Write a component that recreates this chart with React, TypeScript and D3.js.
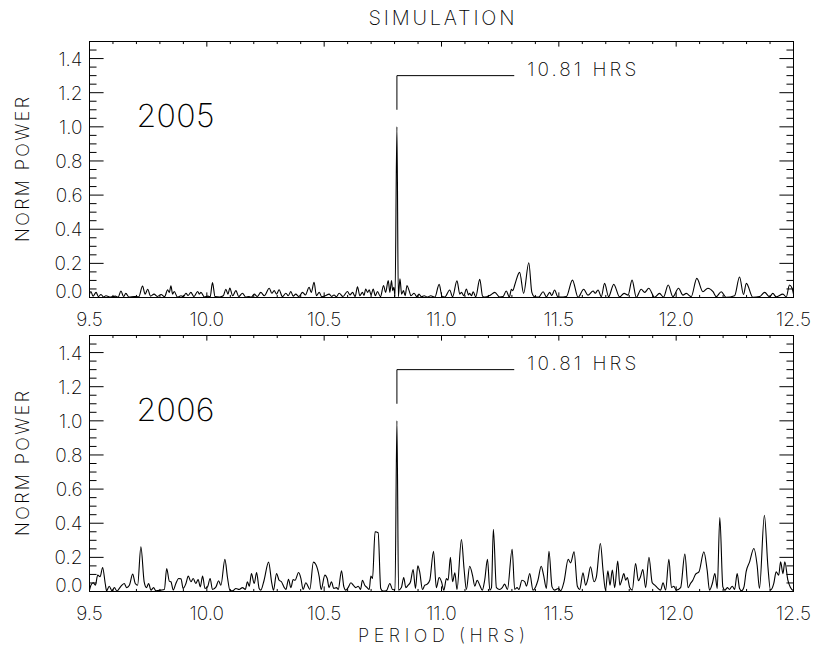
import * as d3 from 'd3';

const TITLE = 'SIMULATION';
const X_LABEL = 'PERIOD (HRS)';
const Y_LABEL = 'NORM POWER';
const X_TICKS = [9.5, 10.0, 10.5, 11.0, 11.5, 12.0, 12.5];
const Y_TICKS = [0, 0.2, 0.4, 0.6, 0.8, 1.0, 1.2, 1.4];
const PEAK_PERIOD = 10.81;
const PEAK_LABEL = '10.81 HRS';

// [period (hrs), normalised power]
const POWER_2005: [number, number][] = [
  [9.5, 0.02], [9.506, 0.035], [9.515, 0.008], [9.528, 0.03], [9.538, 0.005], [9.549, 0.018], [9.56, 0.003],
  [9.57, 0.01], [9.59, 0.002], [9.61, 0.008], [9.622, 0.002], [9.634, 0.038], [9.645, 0.006], [9.655, 0.024],
  [9.668, 0.003], [9.69, 0.006], [9.71, 0.004], [9.726, 0.067], [9.737, 0.02], [9.748, 0.048], [9.76, 0.008],
  [9.775, 0.02], [9.79, 0.006], [9.805, 0.018], [9.82, 0.005], [9.833, 0.045], [9.84, 0.03], [9.847, 0.069],
  [9.854, 0.02], [9.861, 0.035], [9.875, 0.002], [9.89, 0.01], [9.9, 0.004], [9.911, 0.025], [9.92, 0.012],
  [9.932, 0.03], [9.945, 0.005], [9.961, 0.035], [9.968, 0.02], [9.975, 0.03], [9.99, 0.003], [10.005, 0.008],
  [10.014, 0.003], [10.024, 0.087], [10.035, 0.005], [10.055, 0.003], [10.07, 0.01], [10.081, 0.048],
  [10.09, 0.02], [10.098, 0.055], [10.11, 0.01], [10.124, 0.04], [10.136, 0.005], [10.152, 0.025],
  [10.165, 0.003], [10.18, 0.005], [10.19, 0.002], [10.202, 0.02], [10.215, 0.006], [10.23, 0.03],
  [10.245, 0.01], [10.266, 0.054], [10.277, 0.025], [10.287, 0.04], [10.297, 0.02], [10.308, 0.045],
  [10.322, 0.005], [10.337, 0.025], [10.347, 0.01], [10.358, 0.035], [10.368, 0.008], [10.379, 0.02],
  [10.392, 0.006], [10.408, 0.03], [10.42, 0.015], [10.436, 0.06], [10.445, 0.03], [10.457, 0.089],
  [10.467, 0.01], [10.479, 0.03], [10.49, 0.004], [10.505, 0.01], [10.521, 0.02], [10.532, 0.006],
  [10.542, 0.015], [10.552, 0.004], [10.564, 0.025], [10.58, 0.006], [10.599, 0.035], [10.61, 0.015],
  [10.621, 0.03], [10.632, 0.005], [10.642, 0.063], [10.652, 0.01], [10.663, 0.03], [10.67, 0.012],
  [10.677, 0.05], [10.685, 0.03], [10.692, 0.045], [10.7, 0.015], [10.709, 0.05], [10.718, 0.01],
  [10.727, 0.035], [10.74, 0.005], [10.753, 0.07], [10.762, 0.03], [10.773, 0.1], [10.78, 0.03],
  [10.787, 0.1], [10.792, 0.04], [10.797, 0.06], [10.802, 0.005], [10.81, 1.0], [10.816, 0.005],
  [10.823, 0.11], [10.83, 0.02], [10.838, 0.04], [10.845, 0.01], [10.853, 0.07], [10.862, 0.04],
  [10.87, 0.01], [10.883, 0.025], [10.895, 0.005], [10.904, 0.02], [10.915, 0.004], [10.926, 0.01],
  [10.94, 0.003], [10.954, 0.01], [10.972, 0.003], [10.99, 0.077], [11.002, 0.008], [11.014, 0.003],
  [11.035, 0.044], [11.047, 0.004], [11.066, 0.098], [11.078, 0.02], [11.085, 0.03], [11.095, 0.01],
  [11.106, 0.05], [11.115, 0.015], [11.12, 0.025], [11.128, 0.01], [11.135, 0.034], [11.146, 0.004],
  [11.163, 0.106], [11.175, 0.008], [11.184, 0.002], [11.206, 0.012], [11.227, 0.03], [11.248, 0.002],
  [11.262, 0.005], [11.276, 0.038], [11.289, 0.003], [11.298, 0.048], [11.304, 0.04], [11.312, 0.073],
  [11.333, 0.147], [11.35, 0.024], [11.372, 0.204], [11.385, 0.03], [11.397, 0.004], [11.415, 0.003],
  [11.433, 0.034], [11.447, 0.004], [11.461, 0.03], [11.47, 0.012], [11.482, 0.044], [11.495, 0.005],
  [11.504, 0.002], [11.532, 0.005], [11.558, 0.102], [11.582, 0.001], [11.606, 0.048], [11.624, 0.014],
  [11.646, 0.038], [11.655, 0.025], [11.667, 0.044], [11.681, 0.005], [11.695, 0.083], [11.712, 0.005],
  [11.734, 0.077], [11.759, 0.004], [11.778, 0.024], [11.795, 0.014], [11.812, 0.102], [11.83, 0.001],
  [11.851, 0.048], [11.866, 0.03], [11.883, 0.054], [11.908, 0.001], [11.929, 0.024], [11.946, 0.002],
  [11.966, 0.073], [11.986, 0.005], [12.01, 0.054], [12.029, 0.014], [12.043, 0.024], [12.064, 0.005],
  [12.088, 0.112], [12.114, 0.034], [12.135, 0.054], [12.157, 0.034], [12.171, 0.005], [12.192, 0.034],
  [12.213, 0.001], [12.249, 0.01], [12.27, 0.12], [12.287, 0.018], [12.299, 0.083], [12.327, 0.001],
  [12.355, 0.005], [12.377, 0.03], [12.398, 0.004], [12.412, 0.024], [12.426, 0.004], [12.455, 0.02],
  [12.469, 0.003], [12.483, 0.073], [12.494, 0.054], [12.5, 0.02],
];

const POWER_2006: [number, number][] = [
  [9.5, 0.008], [9.506, 0.037], [9.516, 0.051], [9.525, 0.037], [9.535, 0.096], [9.545, 0.086], [9.556, 0.141],
  [9.567, 0.047], [9.573, 0.004], [9.584, 0.031], [9.596, 0.004], [9.606, 0.023], [9.617, 0.002], [9.627, 0.018],
  [9.638, 0.037], [9.648, 0.047], [9.658, 0.023], [9.67, 0.037], [9.684, 0.102], [9.695, 0.047], [9.705, 0.037],
  [9.719, 0.262], [9.733, 0.057], [9.743, 0.023], [9.752, 0.047], [9.762, 0.008], [9.773, 0.023], [9.783, 0.004],
  [9.804, 0.008], [9.819, 0.012], [9.829, 0.135], [9.84, 0.061], [9.847, 0.057], [9.857, 0.008], [9.868, 0.047],
  [9.88, 0.076], [9.89, 0.074], [9.899, 0.018], [9.911, 0.047], [9.921, 0.09], [9.932, 0.057], [9.942, 0.076],
  [9.953, 0.047], [9.963, 0.07], [9.972, 0.027], [9.982, 0.09], [9.992, 0.018], [10.003, 0.027], [10.014, 0.076],
  [10.024, 0.012], [10.039, 0.027], [10.05, 0.063], [10.06, 0.037], [10.077, 0.188], [10.088, 0.082],
  [10.098, 0.008], [10.11, 0.004], [10.124, 0.018], [10.138, 0.012], [10.152, 0.023], [10.164, 0.012],
  [10.173, 0.057], [10.181, 0.031], [10.19, 0.105], [10.202, 0.047], [10.212, 0.111], [10.223, 0.018],
  [10.23, 0.008], [10.244, 0.066], [10.263, 0.172], [10.277, 0.047], [10.284, 0.008], [10.297, 0.105],
  [10.308, 0.066], [10.318, 0.057], [10.33, 0.023], [10.337, 0.012], [10.348, 0.072], [10.358, 0.023],
  [10.368, 0.07], [10.376, 0.066], [10.391, 0.111], [10.401, 0.076], [10.41, 0.012], [10.422, 0.051],
  [10.429, 0.037], [10.439, 0.012], [10.454, 0.172], [10.464, 0.16], [10.479, 0.086], [10.487, 0.012],
  [10.503, 0.096], [10.513, 0.076], [10.521, 0.023], [10.531, 0.057], [10.541, 0.018], [10.553, 0.023],
  [10.56, 0.012], [10.574, 0.121], [10.584, 0.027], [10.592, 0.008], [10.602, 0.023], [10.614, 0.051],
  [10.624, 0.037], [10.635, 0.023], [10.645, 0.031], [10.655, 0.012], [10.663, 0.066], [10.673, 0.037],
  [10.683, 0.023], [10.692, 0.012], [10.699, 0.09], [10.706, 0.076], [10.717, 0.35], [10.73, 0.344],
  [10.741, 0.018], [10.751, 0.002], [10.765, 0.004], [10.78, 0.047], [10.791, 0.012], [10.802, 0.01],
  [10.81, 1.0], [10.817, 0.008], [10.829, 0.023], [10.839, 0.082], [10.848, 0.023], [10.858, 0.037],
  [10.868, 0.057], [10.879, 0.129], [10.889, 0.018], [10.899, 0.15], [10.907, 0.115], [10.919, 0.012],
  [10.929, 0.037], [10.939, 0.043], [10.95, 0.066], [10.966, 0.236], [10.978, 0.023], [10.99, 0.082],
  [11.0, 0.057], [11.01, 0.008], [11.021, 0.076], [11.028, 0.066], [11.038, 0.2], [11.047, 0.057],
  [11.057, 0.109], [11.066, 0.012], [11.085, 0.305], [11.096, 0.135], [11.106, 0.012], [11.12, 0.148],
  [11.132, 0.096], [11.142, 0.031], [11.152, 0.066], [11.163, 0.037], [11.174, 0.008], [11.184, 0.066],
  [11.196, 0.188], [11.206, 0.008], [11.213, 0.023], [11.221, 0.365], [11.234, 0.023], [11.248, 0.012],
  [11.259, 0.023], [11.269, 0.043], [11.281, 0.012], [11.301, 0.248], [11.312, 0.012], [11.322, 0.023],
  [11.33, 0.012], [11.343, 0.066], [11.355, 0.057], [11.362, 0.031], [11.376, 0.105], [11.39, 0.008],
  [11.401, 0.027], [11.411, 0.066], [11.425, 0.148], [11.435, 0.096], [11.447, 0.018], [11.458, 0.236],
  [11.471, 0.027], [11.482, 0.008], [11.498, 0.018], [11.508, 0.004], [11.522, 0.057], [11.54, 0.188],
  [11.55, 0.168], [11.565, 0.232], [11.579, 0.031], [11.589, 0.012], [11.603, 0.109], [11.614, 0.037],
  [11.624, 0.076], [11.635, 0.145], [11.65, 0.057], [11.66, 0.086], [11.677, 0.281], [11.689, 0.115],
  [11.699, 0.008], [11.709, 0.121], [11.718, 0.037], [11.728, 0.125], [11.738, 0.023], [11.751, 0.178],
  [11.76, 0.037], [11.768, 0.066], [11.777, 0.105], [11.785, 0.066], [11.792, 0.082], [11.802, 0.023],
  [11.813, 0.008], [11.827, 0.164], [11.839, 0.063], [11.848, 0.086], [11.858, 0.129], [11.87, 0.023],
  [11.884, 0.2], [11.898, 0.051], [11.909, 0.037], [11.919, 0.023], [11.934, 0.008], [11.944, 0.051],
  [11.955, 0.008], [11.969, 0.188], [11.98, 0.023], [11.99, 0.031], [12.0, 0.008], [12.019, 0.023],
  [12.037, 0.219], [12.051, 0.023], [12.061, 0.047], [12.071, 0.066], [12.083, 0.102], [12.097, 0.115],
  [12.118, 0.232], [12.132, 0.125], [12.142, 0.008], [12.154, 0.047], [12.165, 0.105], [12.175, 0.018],
  [12.186, 0.434], [12.199, 0.027], [12.208, 0.008], [12.218, 0.023], [12.227, 0.012], [12.239, 0.031],
  [12.249, 0.012], [12.26, 0.105], [12.27, 0.018], [12.279, 0.004], [12.289, 0.027], [12.298, 0.115],
  [12.313, 0.174], [12.331, 0.252], [12.345, 0.154], [12.355, 0.018], [12.376, 0.447], [12.391, 0.145],
  [12.402, 0.008], [12.416, 0.047], [12.426, 0.115], [12.437, 0.096], [12.445, 0.174], [12.455, 0.105],
  [12.463, 0.174], [12.476, 0.066], [12.487, 0.023], [12.5, 0.004],
];

const PANELS = [
  { year: '2005', data: POWER_2005, top: 41.5, bottom: 297.5 },
  { year: '2006', data: POWER_2006, top: 335.5, bottom: 591.5 },
];

const W = 817, H = 654;
const LEFT = 89.5, RIGHT = 793.5;
const FONT = 'Inter, Roboto, "DejaVu Sans", sans-serif';
const INK = '#000';
const WT = 200;

const x = d3.scaleLinear().domain([9.5, 12.5]).range([LEFT, RIGHT]);
const xMinor = d3.range(95, 126).map(v => v / 10);
const yMinor = d3.range(0, 31).map(v => v / 20);

function Panel({ year, data, top, bottom }: { year: string; data: [number, number][]; top: number; bottom: number }) {
  const y = d3.scaleLinear().domain([0, 1.5]).range([bottom, top]);
  const line = d3.line<[number, number]>().x(d => x(d[0])).y(d => y(d[1])).curve(d3.curveMonotoneX);
  const ph = bottom - top, pw = RIGHT - LEFT;
  const xt = 0.02 * ph, yt = 0.02 * pw; // IDL-style tick lengths
  const px = x(PEAK_PERIOD);
  return (
    <g>
      <rect x={LEFT} y={top} width={pw} height={ph} fill="none" stroke={INK} strokeWidth={1} />
      {xMinor.map(v => {
        const major = Math.abs(v * 2 - Math.round(v * 2)) < 1e-6;
        const len = major ? xt : xt / 2;
        return (
          <g key={'x' + v}>
            <line x1={x(v)} x2={x(v)} y1={bottom} y2={bottom - len} stroke={INK} />
            <line x1={x(v)} x2={x(v)} y1={top} y2={top + len} stroke={INK} />
          </g>
        );
      })}
      {yMinor.map(v => {
        const major = Math.abs(v * 5 - Math.round(v * 5)) < 1e-6;
        const len = major ? yt : yt / 2;
        return (
          <g key={'y' + v}>
            <line x1={LEFT} x2={LEFT + len} y1={y(v)} y2={y(v)} stroke={INK} />
            <line x1={RIGHT} x2={RIGHT - len} y1={y(v)} y2={y(v)} stroke={INK} />
          </g>
        );
      })}
      {Y_TICKS.map(t => (
        <text key={t} x={LEFT - 7} y={y(t) + (t === 0 ? 0 : 7)} textAnchor="end" fontSize={19} fontWeight={WT} fontFamily={FONT} fill={INK}>
          {t.toFixed(1)}
        </text>
      ))}
      {X_TICKS.map(t => (
        <text key={t} x={x(t)} y={bottom + 28.5} textAnchor="middle" fontSize={19} fontWeight={WT} fontFamily={FONT} fill={INK}>
          {t.toFixed(1)}
        </text>
      ))}
      <text transform={`translate(29,${(top + bottom) / 2}) rotate(-90)`} textAnchor="middle" fontSize={18} fontWeight={WT}
        fontFamily={FONT} fill={INK} textLength={145} lengthAdjust="spacing">
        {Y_LABEL}
      </text>
      <path d={line(data) ?? ''} fill="none" stroke={INK} strokeWidth={1.1} strokeLinejoin="round" />
      <path d={`M${px},${y(1.1)}V${y(1.3)}H${x(11.31)}`} fill="none" stroke={INK} strokeWidth={1} />
      <text x={x(11.31) + 13} y={y(1.3)} fontSize={19} fontWeight={WT} fontFamily={FONT} fill={INK}
        textLength={109} lengthAdjust="spacing">
        {PEAK_LABEL}
      </text>
      <text x={x(9.70)} y={y(1.0)} fontSize={32} fontWeight={WT} fontFamily={FONT} fill={INK}
        textLength={78} lengthAdjust="spacing">{year}</text>
    </g>
  );
}

export default function App() {
  return (
    <svg width={W} height={H} viewBox={`0 0 ${W} ${H}`} style={{ position: 'absolute', left: 0, top: 0, background: '#fff' }}>
      <rect width={W} height={H} fill="#fff" />
      <text x={(LEFT + RIGHT) / 2} y={25} textAnchor="middle" fontSize={20} fontWeight={WT} fontFamily={FONT} fill={INK}
        textLength={146} lengthAdjust="spacing">
        {TITLE}
      </text>
      {PANELS.map(p => <Panel key={p.year} {...p} />)}
      <text x={(LEFT + RIGHT) / 2} y={642} textAnchor="middle" fontSize={18} fontWeight={WT} fontFamily={FONT} fill={INK}
        textLength={167} lengthAdjust="spacing">
        {X_LABEL}
      </text>
    </svg>
  );
}
